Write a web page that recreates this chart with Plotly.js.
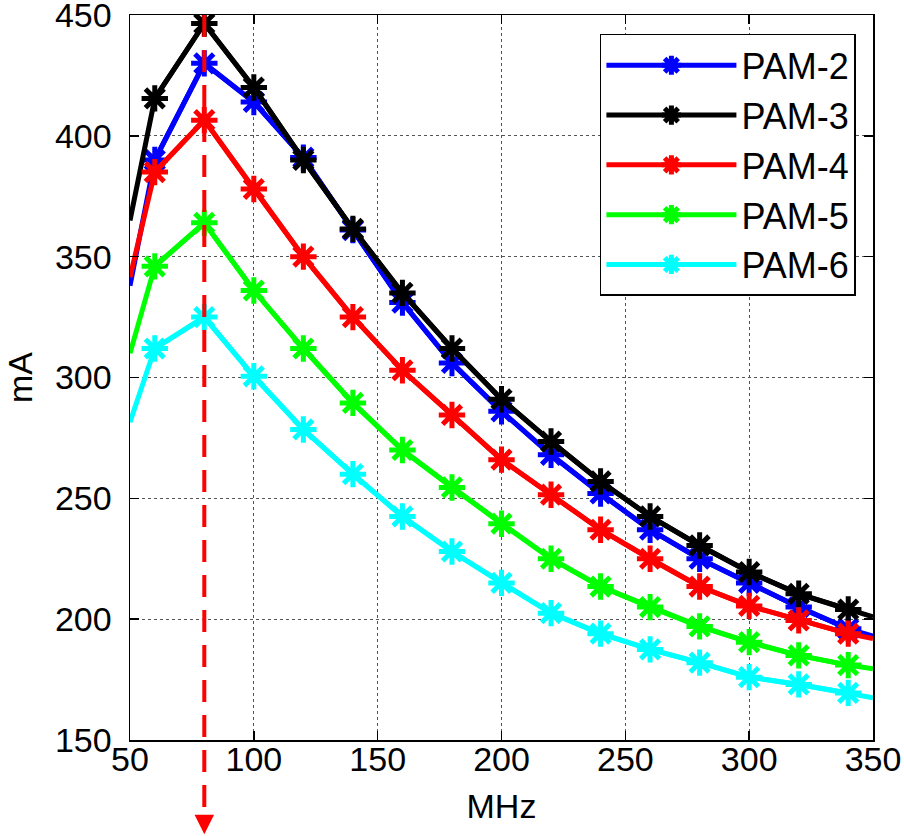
<!DOCTYPE html>
<html><head><meta charset="utf-8">
<script src="https://cdn.plot.ly/plotly-3.0.1.min.js"></script>
<style>html,body{margin:0;padding:0;background:#fff}#chart{width:904px;height:836px}</style>
</head><body><div id="chart"></div>
<script>
// Frequency axis (MHz); first and last samples sit on the axis edges (no marker drawn there)
const freqMHz = [50, 60, 80, 100, 120, 140, 160, 180, 200, 220, 240, 260, 280, 300, 320, 340, 350];
const seriesNames = ['PAM-2', 'PAM-3', 'PAM-4', 'PAM-5', 'PAM-6'];
const seriesColors = ['#0000FF', '#000000', '#FF0000', '#00FF00', '#00FFFF'];
const pam2 = [338, 390, 430, 414, 391, 361, 331, 306, 286, 268, 252, 237, 225, 215, 205, 196, 193];
const pam3 = [365, 415.5, 446.5, 420, 390, 361.5, 335, 312, 291, 273.5, 257, 242.5, 230.5, 219.5, 210.5, 204, 201];
const pam4 = [341.5, 385, 406.5, 378, 350, 325, 303, 284.5, 266, 251.5, 237, 225, 213.5, 205.5, 199.5, 194, 192];
const pam5 = [310, 346, 364, 336, 312, 289.5, 270, 254.5, 239.5, 225, 213.5, 205, 197, 190.5, 185, 181, 179.5];
const pam6 = [281.5, 312, 325, 300.5, 278.5, 260, 242.5, 228, 215, 202.5, 194, 187.5, 182, 176, 173, 169.5, 167.5];
const xTicks = [50, 100, 150, 200, 250, 300, 350];
const yTicks = [150, 200, 250, 300, 350, 400, 450];
const peakFreq = 80;

const allSeries = [pam2, pam3, pam4, pam5, pam6];
const FONT = 'Liberation Sans, Arial, Helvetica, sans-serif';

const traces = [];
allSeries.forEach((vals, i) => {
  const c = seriesColors[i];
  traces.push({
    x: freqMHz, y: vals, mode: 'lines', showlegend: false, hoverinfo: 'skip',
    line: {color: c, width: 5}
  });
  traces.push({
    x: freqMHz.slice(1, -1), y: vals.slice(1, -1), mode: 'lines+markers', name: seriesNames[i],
    line: {color: c, width: 5},
    marker: {symbol: 'asterisk-open', size: 22, color: c, line: {color: c, width: 5}}
  });
});

const axisCommon = {
  ticks: 'inside', ticklen: 9, tickwidth: 1.5, tickcolor: '#000',
  mirror: 'ticks', showline: true, linecolor: '#000', linewidth: 1.5,
  showgrid: true, gridcolor: '#555', gridwidth: 1, griddash: 'dot',
  zeroline: false, ticklabeloverflow: 'allow',
  tickfont: {family: FONT, size: 34, color: '#000'}
};

const layout = {
  width: 904, height: 836,
  margin: {l: 130, r: 31, t: 15, b: 96},
  paper_bgcolor: '#fff', plot_bgcolor: '#fff',
  font: {family: FONT, size: 34, color: '#000'},
  xaxis: Object.assign({}, axisCommon, {
    range: [50, 350], tickvals: xTicks, ticklabelstandoff: -11,
    title: {text: 'MHz', font: {family: FONT, size: 34, color: '#000'}, standoff: 17}
  }),
  yaxis: Object.assign({}, axisCommon, {
    range: [150, 450], tickvals: yTicks, ticklabelstandoff: 10,
    title: {text: 'mA', font: {family: FONT, size: 34, color: '#000'}, standoff: 12}
  }),
  legend: {
    x: 0.977, xanchor: 'right', y: 0.974, yanchor: 'top',
    bgcolor: '#fff', bordercolor: '#000', borderwidth: 1.5,
    font: {family: FONT, size: 36, color: '#000'}, itemwidth: 130
  },
  shapes: [{
    type: 'line', xref: 'x', yref: 'paper', x0: peakFreq, x1: peakFreq, y0: 1, y1: -0.115,
    line: {color: '#FF0000', width: 4, dash: '22px,13px'}, layer: 'above'
  }],
  annotations: [{
    xref: 'x', yref: 'paper', x: peakFreq, y: -0.13, ax: 0, ay: -14, text: '',
    showarrow: true, arrowhead: 2, arrowsize: 1.3, arrowwidth: 3, arrowcolor: '#FF0000'
  }],
  showlegend: true
};

Plotly.newPlot('chart', traces, layout, {displayModeBar: false, staticPlot: true});
</script>
</body></html>
